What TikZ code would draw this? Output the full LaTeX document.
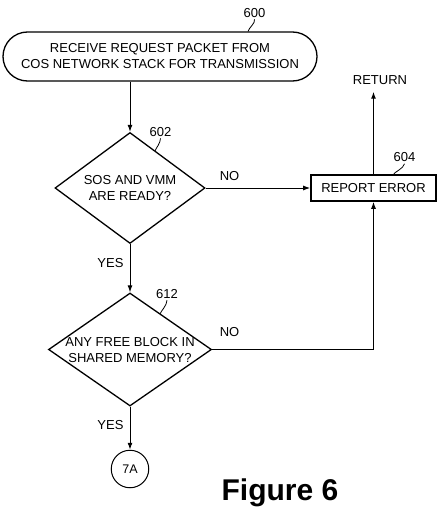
\documentclass[tikz,border=0pt]{standalone}
\usepackage{fontspec}
\setmainfont{Liberation Sans}
\usetikzlibrary{shapes.geometric,arrows.meta}
\begin{document}
\begin{tikzpicture}[x=1pt,y=-1pt,
  txt/.style={font=\fontsize{13}{16}\selectfont, inner sep=0pt, align=center},
  shp/.style={draw, line width=1.3pt},
  dia/.style={shp, diamond, inner sep=0pt},
  conn/.style={line width=1pt},
  arr/.style={conn, -{Latex[length=7pt,width=5pt]}},
  lead/.style={line width=0.8pt}]
\useasboundingbox (0,0) rectangle (441,511);

% shapes
\node[shp, rectangle, rounded corners=24.5pt, minimum width=314pt, minimum height=49pt, inner sep=0pt] (start) at (160,56.5) {};
\node[txt] (tstart) at (start) {RECEIVE REQUEST PACKET FROM\\COS NETWORK STACK FOR TRANSMISSION};

\node[dia, minimum width=150pt, minimum height=111pt] (d1) at (130,188) {};
\node[txt] (td1) at (d1) {SOS AND VMM\\ARE READY?};

\node[shp, rectangle, line width=1.6pt, minimum width=125pt, minimum height=26pt, inner sep=0pt] (err) at (373.5,188) {};
\node[txt] (terr) at (err) {REPORT ERROR};

\node[dia, minimum width=163pt, minimum height=113pt] (d2) at (130,349.5) {};
\node[txt] (td2) at (130,350.5) {ANY FREE BLOCK IN\\SHARED MEMORY?};

\node[draw, circle, line width=1pt, minimum size=37.5pt, inner sep=0pt, font=\fontsize{12.5}{15}\selectfont] (c7) at (130,469) {7A};

\node[txt] (ret) at (380,80) {RETURN};

% labels
\node[txt] (l600) at (254.5,13) {600};
\node[txt] (l602) at (160.5,132) {602};
\node[txt] (l604) at (404.5,157.5) {604};
\node[txt] (l612) at (167,294) {612};
\node[txt] (no1) at (229.5,176.5) {NO};
\node[txt] (no2) at (229.5,332.5) {NO};
\node[txt] (yes1) at (110.5,263) {YES};
\node[txt] (yes2) at (110.5,425.5) {YES};

\node[font=\fontsize{30}{36}\selectfont\bfseries, inner sep=0pt, anchor=base] (fig) at (280,500) {Figure 6};

% leader lines
\coordinate (e600) at (248,31.5);
\coordinate (e602) at (155,151);
\coordinate (e604) at (393,175);
\coordinate (e612) at (160,314);
\draw[lead] ([yshift=-1.5pt]l600.south) .. controls +(1,4) and +(1,-4) .. (e600);
\draw[lead] ([yshift=-1.5pt]l602.south) .. controls +(0,5) and +(1,-3) .. (e602);
\draw[lead] ([yshift=-1.5pt]l604.south) .. controls +(-1,5) and +(1,-3) .. (e604);
\draw[lead] ([yshift=-1.5pt]l612.south) .. controls +(0,5) and +(1,-3) .. (e612);

% connectors
\draw[arr] (start.south -| d1.north) -- (d1.north);
\draw[arr] (d1.east) -- (err.west);
\draw[arr, shorten >=7pt] (err.north) -- (err.north |- ret.south);
\draw[arr] (d1.south) -- (d2.north);
\draw[arr] (d2.east) -| (err.south);
\draw[arr] (d2.south) -- (c7.north);
\end{tikzpicture}
\end{document}
